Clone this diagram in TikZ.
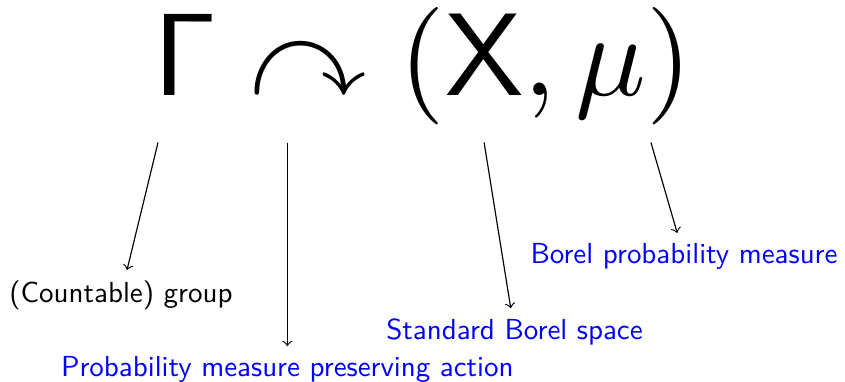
\documentclass[tikz,border=0pt]{standalone}
\usepackage{amsmath}
\usepackage{amssymb}
\renewcommand{\familydefault}{\sfdefault}

\begin{document}
\begin{tikzpicture}[note/.style={anchor=base, text=blue}, plain/.style={anchor=base}]
            \useasboundingbox (0,0) rectangle (10.246,-4.620);

            % Action formula
            \node[plain] (formula) at (5.123,-1.164) {\scalebox{4.05}{$\mathsf{\Gamma}\curvearrowright(\mathsf{X},\mu)$}};

            % Labels
            \node[plain] (group) at (1.467,-3.662) {(Countable) group};
            \node[note] (action) at (3.484,-4.565) {Probability measure preserving action};
            \node[note] (space) at (6.239,-4.114) {Standard Borel space};
            \node[note] (measure) at (8.294,-3.193) {Borel probability measure};

            % Arrow starts below the formula
            \coordinate (gamma) at (1.916,-1.728);
            \coordinate (act) at (3.484,-1.728);
            \coordinate (xx) at (5.870,-1.728);
            \coordinate (mu) at (7.893,-1.728);

            % Arrows
            \draw[->] (gamma) -- (group);
            \draw[->] (act) -- (action);
            \draw[->] (xx) -- (space);
            \draw[->] (mu) -- (measure);
        \end{tikzpicture}
\end{document}
